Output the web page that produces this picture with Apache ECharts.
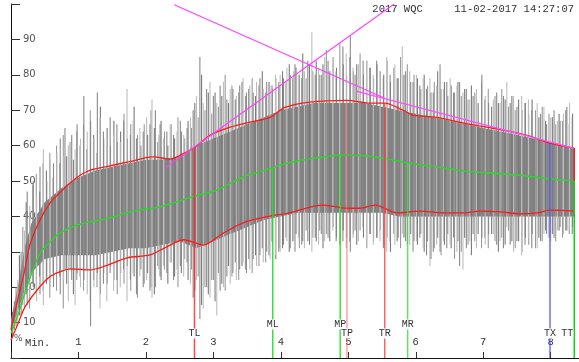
<!DOCTYPE html>
<html><head><meta charset="utf-8">
<script src="https://cdn.jsdelivr.net/npm/echarts@6/dist/echarts.min.js"></script>
<style>html,body{margin:0;padding:0;background:#fff}#c{width:579px;height:362px}</style>
</head><body><div id="c"></div>
<script>
// ---- Data (minutes vs %) ----
const xTicks = [1,2,3,4,5,6,7,8];
const yTicks = [10,20,30,40,50,60,70,80,90];

// dense core of the signal (band)
const coreT  = [0,0.1,0.2,0.3,0.5,0.75,1.0,1.25,1.5,1.75,2.0,2.25,2.5,2.75,3.0,3.25,3.5,3.75,4.0,4.25,4.5,4.75,5.0,5.25,5.5,5.75,6.0,6.25,6.5,6.75,7.0,7.25,7.5,7.75,8.0,8.35];
const coreHi = [11,20,31,38,44,48,51,53,54,55,56,56,57,60,62,64,66,68,70,71,72,72,72,72,71,70,69,68,67,66,65,64,63,62,61,59];
const coreLo = [8,13,19,24,28,29,29,29,30,31,31,32,33,31,33,35,37,39,40,41,41,41,41,41,41,40,40,40,40,40,40,40,40,40,40,40];

// individual excursions of the signal (set 1: larger peaks)
const spikeT  = [0.05,0.10,0.15,0.20,0.24,0.28,0.33,0.38,0.43,0.48,0.53,0.58,0.63,0.68,0.73,0.78,0.80,0.85,0.90,0.95,0.98,1.03,1.08,1.13,1.18,1.23,1.28,1.32,1.37,1.42,1.47,1.52,1.57,1.62,1.67,1.72,1.77,1.81,1.86,1.91,1.96,2.01,2.06,2.09,2.14,2.19,2.21,2.26,2.31,2.36,2.41,2.46,2.51,2.56,2.61,2.66,2.70,2.75,2.80,2.85,2.90,2.95,3.00,3.05,3.10,3.15,3.20,3.25,3.29,3.34,3.39,3.44,3.49,3.54,3.59,3.64,3.69,3.74,3.79,3.84,3.87,3.92,3.97,3.99,4.04,4.09,4.14,4.19,4.21,4.26,4.31,4.35,4.40,4.46,4.51,4.56,4.60,4.65,4.70,4.77,4.82,4.87,4.92,4.97,5.03,5.07,5.10,5.15,5.22,5.27,5.32,5.37,5.42,5.47,5.52,5.57,5.62,5.69,5.74,5.80,5.85,5.91,5.96,6.01,6.06,6.11,6.16,6.21,6.26,6.31,6.36,6.41,6.46,6.51,6.56,6.61,6.65,6.70,6.75,6.80,6.85,6.90,6.98,7.03,7.08,7.15,7.20,7.25,7.30,7.35,7.40,7.45,7.50,7.57,7.62,7.67,7.72,7.80,7.85,7.90,7.94,8.00,8.05,8.10,8.14,8.19,8.24,8.28,8.32];
const spikeLo = [8,10,12,14,15,17,20,16,18,15,22,20,20,24,18,22,25,16,22,15,24,20,22,18,9,20,24,14,21,16,24,19,22,20,25,16,22,24,18,23,20,22,19,17,20,25,23,26,24,27,22,25,26,23,27,21,17,22,11,14,20,17,22,12,19,20,23,21,24,22,25,27,24,25,28,26,29,27,30,28,33,29,30,30,32,33,31,33,30,34,32,31,33,30,34,32,35,33,34,36,33,35,33,31,30,34,36,33,37,34,35,32,34,33,31,30,33,32,34,35,33,32,30,33,34,31,29,26,30,32,30,33,31,32,34,30,26,25,31,33,35,31,34,32,35,35,32,33,31,37,32,30,33,29,32,34,31,31,33,35,35,33,34,36,37,35,36,37,35];
const spikeHi = [16,22,30,36,47,43,50,46,54,59,50,56,55,58,62,57,65,60,63,59,66,62,74,64,67,62,75,68,64,60,68,63,66,61,67,76,63,67,62,65,64,68,66,73,70,63,66,62,64,66,63,64,67,63,65,68,70,74,85,72,76,78,74,72,77,78,73,76,76,74,77,79,75,77,75,78,79,76,78,77,77,80,78,80,79,82,80,81,83,80,79,81,84,92,80,82,80,85,84,83,81,84,88,86,91,82,80,83,84,81,82,80,84,81,79,85,80,83,79,88,81,81,78,80,77,79,76,79,75,77,83,76,78,79,75,77,78,75,76,73,74,76,80,74,72,73,75,72,74,78,72,74,71,74,72,73,70,72,69,71,66,68,70,67,67,69,71,72,68];

// individual excursions (set 2: between the peaks above)
const spike2T = [0.025,0.075,0.125,0.175,0.225,0.275,0.325,0.375,0.425,0.475,
 0.525,0.575,0.625,0.675,0.725,0.775,0.825,0.875,0.925,0.975,
 1.025,1.075,1.125,1.175,1.225,1.275,1.325,1.375,1.425,1.475,
 1.525,1.575,1.625,1.675,1.725,1.775,1.825,1.875,1.925,1.975,
 2.025,2.075,2.125,2.175,2.225,2.275,2.325,2.375,2.425,2.475,
 2.525,2.575,2.625,2.675,2.725,2.775,2.825,2.875,2.925,2.975,
 3.025,3.075,3.125,3.175,3.225,3.275,3.325,3.375,3.425,3.475,
 3.525,3.575,3.625,3.675,3.725,3.775,3.825,3.875,3.925,3.975,
 4.025,4.075,4.125,4.175,4.225,4.275,4.325,4.375,4.425,4.475,
 4.525,4.575,4.625,4.675,4.725,4.775,4.825,4.875,4.925,4.975,
 5.025,5.075,5.125,5.175,5.225,5.275,5.325,5.375,5.425,5.475,
 5.525,5.575,5.625,5.675,5.725,5.775,5.825,5.875,5.925,5.975,
 6.025,6.075,6.125,6.175,6.225,6.275,6.325,6.375,6.425,6.475,
 6.525,6.575,6.625,6.675,6.725,6.775,6.825,6.875,6.925,6.975,
 7.025,7.075,7.125,7.175,7.225,7.275,7.325,7.375,7.425,7.475,
 7.525,7.575,7.625,7.675,7.725,7.775,7.825,7.875,7.925,7.975,
 8.025,8.075,8.125,8.175,8.225,8.275,8.325];
const spike2Hi = [13,20,29,37,44,41,49,52,47,55,
 53,58,51,60,55,63,57,61,56,64,
 60,66,59,70,63,58,71,62,65,60,
 67,61,64,69,62,66,71,63,60,66,
 63,70,65,61,67,64,60,66,62,68,
 64,62,67,65,72,68,80,70,75,69,
 75,71,74,80,72,77,73,75,78,74,
 76,79,74,77,81,75,78,76,79,77,
 81,78,83,79,82,80,86,79,83,81,
 84,80,83,87,81,85,82,89,83,80,
 85,81,83,86,80,84,82,79,83,81,
 80,84,78,82,79,85,80,83,78,80,
 79,76,80,77,75,78,81,76,78,74,
 77,75,78,74,76,73,77,75,72,78,
 73,76,71,74,72,76,73,71,74,70,
 73,70,72,69,73,70,68,71,67,69,
 68,66,69,67,70,66,69];
const spike2Lo = [6,9,12,15,18,14,21,18,23,19,
 21,17,24,19,23,14,21,25,18,22,
 23,19,25,16,22,20,18,24,21,26,
 22,18,24,21,26,19,23,17,25,21,
 24,20,18,26,22,25,21,27,23,20,
 24,28,22,25,19,23,15,20,18,22,
 16,24,21,19,26,23,27,22,26,25,
 28,24,29,26,31,27,29,32,28,31,
 31,34,30,33,35,31,33,36,32,34,
 33,36,31,35,33,37,34,32,36,34,
 33,35,32,36,34,31,35,33,34,36,
 32,34,30,35,33,31,34,32,35,33,
 32,35,30,33,28,31,34,29,32,35,
 31,28,33,30,34,32,29,33,35,31,
 34,31,35,33,30,34,32,36,33,31,
 33,30,34,32,35,31,34,33,36,34,
 35,33,36,34,36,35,37];

// upper envelope (red)
const upperT = [0,0.1,0.2,0.28,0.43,0.58,0.73,0.88,1.03,1.17,1.40,1.72,2.11,2.36,2.51,2.73,2.95,3.25,3.54,3.84,4.06,4.43,4.98,5.30,5.54,5.81,5.96,6.31,6.73,7.15,7.65,7.99,8.35];
const upperV = [8,16.5,24.5,32,39,43.8,46.8,49.5,51.7,53,54,55.3,56.8,56.2,57.3,59.6,62.9,65.2,66.6,68,70.8,72.3,72.8,72,72,70,68.6,68,66.3,64.9,62.9,60.7,59.3];
// mean (green)
const meanT = [0,0.1,0.2,0.28,0.43,0.58,0.73,0.98,1.40,1.82,2.21,2.73,3.05,3.44,3.87,4.06,4.48,4.88,5.07,5.40,5.88,6.31,6.73,7.50,7.99,8.35];
const meanV = [7,12,18,22.5,29.6,32.8,35.3,37.6,39.3,41.5,42.7,45.8,47.4,51.1,53.7,54.9,56.4,57.3,57.3,56.8,55.1,54,52.8,51.7,50.6,50];
// lower envelope (red)
const lowerT = [0,0.1,0.21,0.43,0.58,0.73,0.88,1.17,1.40,1.72,2.06,2.31,2.56,2.73,2.85,3.15,3.44,3.84,4.06,4.63,4.98,5.17,5.40,5.72,6.06,6.41,6.73,6.95,7.25,7.55,7.80,7.99,8.35];
const lowerV = [5,9.5,14.5,20.2,23,24.4,25.2,24.9,26,28.3,29.1,31.4,33.4,32.5,31.9,35.3,38.2,40.1,40.7,43.2,42.3,42.3,43.2,41,41.5,41,41,41.5,41.3,40.7,41,41.8,41.5];

// magenta trend lines
const riseT = [2.30,5.68],  riseV = [53.9,100];
const fallAT = [2.42,5.54], fallAV = [99.8,73.4];
const fallBT = [5.13,8.34], fallBV = [75.3,59.3];

// event markers
const markerNames = ['TL','ML','MP','TP','TR','MR','TX','TT'];
const markerT     = [2.72,3.88,4.88,4.98,5.54,5.88,7.99,8.35];
const markerTop   = [59.3,53.7,57.3,72.8,72,55.1,60.7,50];
const ttSegT = [8.35,8.35], ttSegV = [50,59.3];

// ---- styles ----
const markerColor = {TL:'rgba(255,40,40,0.85)',ML:'rgba(40,220,40,0.9)',MP:'rgba(40,220,40,0.9)',TP:'rgba(255,90,90,0.55)',TR:'rgba(255,60,60,0.8)',MR:'rgba(60,220,60,0.8)',TX:'rgba(60,60,255,0.75)',TT:'rgba(0,220,0,1)'};
const pair = (ts, vs) => ts.map((t,i)=>[t, vs[i]]);

const chart = echarts.init(document.getElementById('c'), null, {renderer:'canvas'});
const mono = '"Liberation Mono", "DejaVu Sans Mono", monospace';

const spikeRender = (dark, light) => (params,api)=>{
  const a=api.coord([api.value(0),api.value(1)]);
  const b=api.coord([api.value(0),api.value(2)]);
  return {type:'line',shape:{x1:a[0],y1:a[1],x2:b[0],y2:b[1]},
    style:{stroke: params.dataIndex%2? light:dark,lineWidth:1.1}};
};

const option = {
  animation:false,
  grid:{left:11,right:0,top:4,bottom:4},
  xAxis:{type:'value',min:0,max:8.42,interval:1,
    axisLine:{lineStyle:{color:'#111',width:1}},
    axisTick:{inside:true,length:6,lineStyle:{color:'#333'}},
    axisLabel:{inside:true,margin:10,showMaxLabel:false,color:'#333',fontFamily:mono,fontSize:10.5,
      formatter:v=> xTicks.includes(v)? String(v):''},
    splitLine:{show:false}},
  yAxis:{type:'value',min:0,max:100,interval:10,
    axisLine:{show:true,lineStyle:{color:'#111',width:1}},
    axisTick:{show:true,inside:true,length:9,lineStyle:{color:'#333'}},
    axisLabel:{inside:true,margin:12,color:'#555',fontFamily:'"DejaVu Sans", sans-serif',fontSize:10,
      formatter:v=> yTicks.includes(v)? String(v):''},
    splitLine:{show:false}},
  graphic:[
    {type:'text',right:5,top:4,style:{text:'2017 WQC     11-02-2017 14:27:07',font:'10.5px '+mono,fill:'#333'}},
    {type:'text',left:25,top:338,style:{text:'Min.',font:'10.5px '+mono,fill:'#333'}},
    {type:'text',left:14,top:334,style:{text:'%',font:'9px "DejaVu Sans"',fill:'#555'}}
  ],
  series:[
    {type:'custom',name:'core',silent:true,clip:true,
      data: coreT.map((t,i)=>[t,coreLo[i],coreHi[i]]),
      renderItem:(params,api)=>{
        if(params.dataIndex!==0) return null;
        const pts=[];
        for(let i=0;i<coreT.length;i++) pts.push(api.coord([coreT[i],coreHi[i]]));
        for(let i=coreT.length-1;i>=0;i--) pts.push(api.coord([coreT[i],coreLo[i]]));
        return {type:'polygon',shape:{points:pts},style:{fill:'#808080'}};
      }},
    {type:'custom',name:'spikes2',silent:true,clip:true,
      data: spike2T.map((t,i)=>[t,spike2Lo[i],spike2Hi[i]]),
      renderItem: spikeRender('#7a7a7a','#9a9a9a')},
    {type:'custom',name:'spikes',silent:true,clip:true,
      data: spikeT.map((t,i)=>[t,spikeLo[i],spikeHi[i]]),
      renderItem: spikeRender('#8a8a8a','#bdbdbd')},
    {type:'line',data:pair(upperT,upperV),smooth:0.3,symbol:'none',lineStyle:{color:'#ff1a1a',width:1.3},z:3},
    {type:'line',data:pair(meanT,meanV),smooth:0.3,symbol:'none',lineStyle:{color:'#1ee01e',width:1.3},z:3},
    {type:'line',data:pair(lowerT,lowerV),smooth:0.3,symbol:'none',lineStyle:{color:'#ff1a1a',width:1.3},z:3},
    {type:'line',data:pair(riseT,riseV),symbol:'none',lineStyle:{color:'#ff40ff',width:1.1},z:4},
    {type:'line',data:pair(fallAT,fallAV),symbol:'none',lineStyle:{color:'#ff40ff',width:1.1},z:4},
    {type:'line',data:pair(fallBT,fallBV),symbol:'none',lineStyle:{color:'#ff50ff',width:1.3},z:4},
    {type:'line',data:pair(ttSegT,ttSegV),symbol:'none',lineStyle:{color:'#ff1a1a',width:1.5},z:5},
    {type:'custom',name:'markers',silent:true,clip:false,z:6,
      data: markerNames.map((n,i)=>[markerT[i],markerTop[i]]),
      renderItem:(params,api)=>{
        const name=markerNames[params.dataIndex];
        const top=api.coord([api.value(0),api.value(1)]);
        const bot=api.coord([api.value(0),0]);
        const upper=name.charAt(0)==='M';
        const ly=bot[1]-(upper?33.5:24.5);
        const nearRight = top[0] > params.coordSys.x+params.coordSys.width-8;
        return {type:'group',children:[
          {type:'line',shape:{x1:top[0],y1:top[1],x2:bot[0],y2:bot[1]},style:{stroke:markerColor[name],lineWidth:1.5}},
          {type:'text',x: nearRight? top[0]-1: top[0], y: ly,
            style:{text:name,font:'10px '+mono,fill:'#333',align: nearRight?'right':'center',verticalAlign:'middle',
              backgroundColor:'#fff',padding:[0,0]}}
        ]};
      }}
  ]
};
chart.setOption(option);
</script></body></html>
